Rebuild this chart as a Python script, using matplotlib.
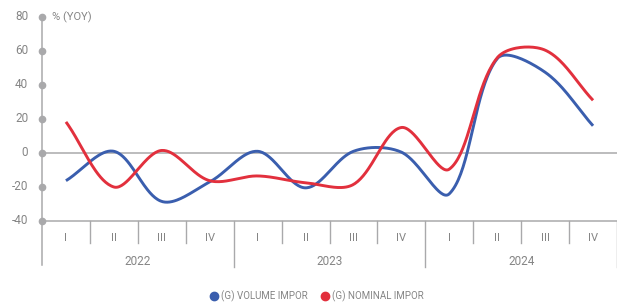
import numpy as np
import matplotlib
matplotlib.use('Agg')
import matplotlib.pyplot as plt
from matplotlib.lines import Line2D

# data (% YoY, quarterly)
quarters = ['I', 'II', 'III', 'IV'] * 3
years = ['2022', '2023', '2024']
volume_impor = [-16.3, 1.0, -28.5, -17.0, 1.0, -20.5, 1.0, 0.5, -24.0, 55.5, 47.5, 16.0]
nominal_impor = [18.3, -20.0, 1.5, -16.3, -13.5, -17.5, -18.5, 15.0, -9.5, 56.0, 60.5, 31.0]
y_ticks = [-40, -20, 0, 20, 40, 60, 80]

blue = '#3a5eae'
red = '#e2303d'
grey = '#a9a9ab'
text_grey = '#858585'

plt.rcParams['font.family'] = ['Roboto', 'DejaVu Sans']

# screen scale (px per x unit / px per y unit) used for the smoothing
SX, SY = 48.0, 204.0 / 120.0


def smooth(x, y, steps=40):
    # bezier smoothing with control arms scaled by chord length (spreadsheet style)
    p = np.column_stack([np.asarray(x, float) * SX, np.asarray(y, float) * SY])
    n = len(p)
    c_out = np.zeros_like(p)
    c_in = np.zeros_like(p)
    for i in range(n):
        prev = p[max(i - 1, 0)]
        nxt = p[min(i + 1, n - 1)]
        d1 = np.linalg.norm(p[i] - prev)
        d2 = np.linalg.norm(nxt - p[i])
        tot = d1 + d2 if d1 + d2 > 0 else 1
        tan = nxt - prev
        c_out[i] = p[i] + tan * (d2 / tot) / 3
        c_in[i] = p[i] - tan * (d1 / tot) / 3
    t = np.linspace(0, 1, steps)[:, None]
    pts = []
    for i in range(n - 1):
        b = (1 - t) ** 3 * p[i] + 3 * (1 - t) ** 2 * t * c_out[i] \
            + 3 * (1 - t) * t ** 2 * c_in[i + 1] + t ** 3 * p[i + 1]
        pts.append(b)
    pts = np.vstack(pts)
    return pts[:, 0] / SX, pts[:, 1] / SY


fig = plt.figure(figsize=(6.17, 3.03), dpi=100)
ax = fig.add_axes([42 / 617, 1 - 221 / 303, 575 / 617, 204 / 303])
ax.set_xlim(0, 12)
ax.set_ylim(-40, 80)
for s in ax.spines.values():
    s.set_visible(False)
ax.set_xticks([])
ax.set_yticks([])

xs = np.arange(12) + 0.5
bx, by = smooth(xs, volume_impor)
rx, ry = smooth(xs, nominal_impor)

# zero line and bottom line
ax.axhline(0, color=grey, lw=1.1, zorder=1)
ax.plot([0, 12], [-40, -40], color=grey, lw=1.1, clip_on=False, zorder=1)

ax.plot(bx, by, color=blue, lw=2.1, solid_capstyle='butt', zorder=3, clip_on=False)
ax.plot(rx, ry, color=red, lw=2.1, solid_capstyle='butt', zorder=4, clip_on=False)

# y axis with dot ticks
trans = ax.get_xaxis_transform()
ax.plot([0, 0], [1.0, -0.215], color=grey, lw=1.1, transform=trans, clip_on=False)
ax.plot([0] * len(y_ticks), y_ticks, 'o', color=grey, ms=4.5, clip_on=False, zorder=5)
for v in y_ticks:
    ax.text(-0.29, v, str(v), ha='right', va='center', fontsize=8.5, color=text_grey)
ax.text(0.2, 80, '% (YOY)', ha='left', va='center', fontsize=8, color=text_grey)

# category axis
for i in range(1, 12):
    if i % 4 == 0:
        ax.plot([i, i], [0, -0.225], color=grey, lw=1.0, transform=trans, clip_on=False)
    else:
        ax.plot([i, i], [0, -0.11], color=grey, lw=1.0, transform=trans, clip_on=False)
ax.plot([12, 12], [0, -0.225], color=grey, lw=1.0, transform=trans, clip_on=False)
for i, q in enumerate(quarters):
    ax.text(i + 0.5, -0.085, q, ha='center', va='center', fontsize=8, color=text_grey, transform=trans)
for j, yr in enumerate(years):
    ax.text(j * 4 + 2, -0.2, yr, ha='center', va='center', fontsize=8.5, color=text_grey, transform=trans)

handles = [Line2D([], [], marker='o', ls='none', color=blue, ms=6),
           Line2D([], [], marker='o', ls='none', color=red, ms=6)]
leg = fig.legend(handles, ['(G) VOLUME IMPOR', '(G) NOMINAL IMPOR'], loc='center',
                 bbox_to_anchor=(0.512, 0.022), ncol=2, frameon=False, fontsize=7,
                 handletextpad=0.1, columnspacing=1.2, handlelength=1.2)
for t in leg.get_texts():
    t.set_color(text_grey)

fig.savefig('out.png', dpi=100)
